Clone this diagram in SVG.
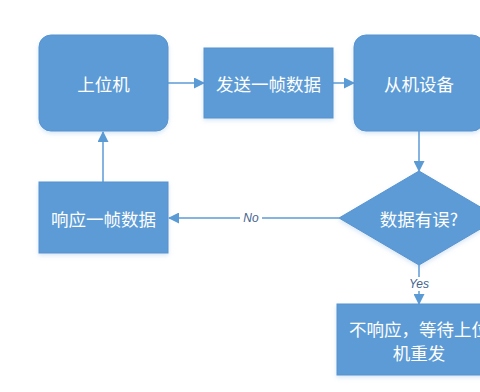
<svg xmlns="http://www.w3.org/2000/svg" width="480" height="392" viewBox="0 0 480 392">
<defs>
<filter id="sh" x="-10%" y="-10%" width="120%" height="130%">
<feDropShadow dx="0" dy="2" stdDeviation="2" flood-color="#5B9BD5" flood-opacity="0.25"/>
</filter>
<marker id="ar" markerWidth="11" markerHeight="11" refX="10" refY="5.5" orient="auto" markerUnits="userSpaceOnUse">
<path d="M0,0 L11,5.5 L0,11 Z" fill="#5B9BD5"/>
</marker>
<style>
.n{fill:#5B9BD5;stroke:#5A93CF;stroke-width:1;filter:url(#sh)}
.t{fill:#fff;font-family:"Noto Sans CJK SC","Liberation Sans",sans-serif;font-size:17.5px;text-anchor:middle;dominant-baseline:central}
.c{stroke:#5B9BD5;stroke-width:1.5;fill:none;marker-end:url(#ar)}
.l{fill:#44648F;font-family:"Liberation Sans",sans-serif;font-size:12px;font-style:italic;text-anchor:middle;dominant-baseline:central}
</style>
</defs>
<rect width="480" height="392" fill="#fff"/>
<g id="connectors">
<line class="c" x1="168" y1="83" x2="204" y2="83"/>
<line class="c" x1="333" y1="83" x2="354" y2="83"/>
<line class="c" x1="419" y1="131" x2="419" y2="171"/>
<line class="c" x1="339" y1="218" x2="169" y2="218"/>
<line class="c" x1="103" y1="182" x2="103" y2="132"/>
<line class="c" x1="419" y1="265" x2="419" y2="304"/>
<rect x="240" y="211" width="22" height="14" fill="#fff"/>
<text class="l" x="251" y="218">No</text>
<rect x="406" y="277" width="26" height="14" fill="#fff"/>
<text class="l" x="419" y="284">Yes</text>
</g>
<g id="n1"><rect class="n" x="39" y="35" width="129" height="96" rx="12"/><text class="t" x="103.5" y="83">上位机</text></g>
<g id="n2"><rect class="n" x="204" y="48" width="129" height="70"/><text class="t" x="268.5" y="83">发送一帧数据</text></g>
<g id="n3"><rect class="n" x="354" y="35" width="130" height="96" rx="12"/><text class="t" x="419" y="83">从机设备</text></g>
<g id="n4"><polygon class="n" points="419,171 499,218 419,265 339,218"/><text class="t" x="419" y="218">数据有误?</text></g>
<g id="n5"><rect class="n" x="39" y="182" width="129" height="71"/><text class="t" x="103.5" y="218">响应一帧数据</text></g>
<g id="n6"><rect class="n" x="337" y="304" width="164" height="71"/><text class="t" x="419" y="328">不响应，等待上位</text><text class="t" x="419" y="352">机重发</text></g>
</svg>
